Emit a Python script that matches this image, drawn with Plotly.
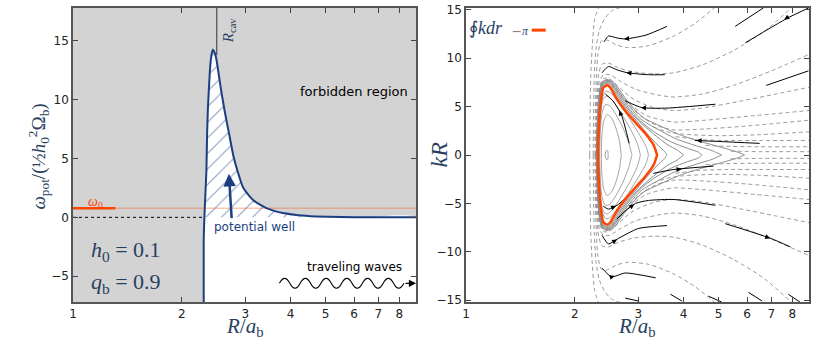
import numpy as np
import plotly.graph_objects as go

# ---- left panel: potential curve ----
pot_r = [2.30, 2.30, 2.31, 2.325, 2.34, 2.35, 2.362, 2.376, 2.39, 2.40, 2.42, 2.44, 2.465, 2.49, 2.53,
         2.57, 2.63, 2.70, 2.78, 2.86, 2.95, 3.05, 3.15, 3.3, 3.43, 3.6, 3.81, 4.2, 4.71, 5.5, 6.5, 8.9]
pot_w = [-9.0, -2.0, 0.0, 2.0, 4.0, 7.0, 9.2, 10.8, 12.2, 13.0, 13.9, 14.25, 14.0, 13.55, 12.2,
         10.8, 9.0, 7.2, 5.2, 3.83, 2.6, 1.95, 1.47, 1.05, 0.78, 0.55, 0.36, 0.18, 0.08, 0.02, 0.0, 0.0]
omega0 = 0.78
omega0_r = [1.0, 1.31]
r_cav = 2.50
r_left, r_right = 1.0, 8.9

# ---- right panel: contours (upper halves, mirrored for kR < 0) ----
red_r = [2.32, 2.33, 2.35, 2.37, 2.40, 2.46, 2.51, 2.62, 2.76, 2.94, 3.14, 3.31, 3.38]
red_kr = [0, 2.5, 4.6, 5.9, 6.95, 7.2, 6.95, 5.76, 4.58, 3.39, 2.2, 1.0, 0]

inner_r = [
    [2.43, 2.44, 2.455, 2.47, 2.475],
    [2.37, 2.38, 2.41, 2.46, 2.53, 2.60, 2.66, 2.69],
    [2.345, 2.355, 2.38, 2.43, 2.50, 2.60, 2.72, 2.82, 2.88],
    [2.335, 2.345, 2.36, 2.40, 2.46, 2.55, 2.68, 2.85, 2.98, 3.04],
    [2.325, 2.335, 2.355, 2.385, 2.44, 2.52, 2.65, 2.82, 3.0, 3.15, 3.20],
]
inner_kr = [
    [0, 0.4, 0.5, 0.4, 0],
    [0, 2.2, 3.6, 4.2, 3.8, 2.8, 1.4, 0],
    [0, 2.5, 4.3, 5.2, 5.1, 4.2, 2.8, 1.3, 0],
    [0, 2.5, 4.4, 5.8, 6.1, 5.6, 4.4, 2.7, 1.2, 0],
    [0, 2.5, 4.5, 5.9, 6.6, 6.4, 5.3, 3.9, 2.3, 0.9, 0],
]

tail_r = [
    [2.315, 2.322, 2.34, 2.36, 2.40, 2.46, 2.52, 2.64, 2.78, 2.97, 3.2, 3.42, 3.55, 3.6],
    [2.31, 2.318, 2.336, 2.356, 2.395, 2.46, 2.53, 2.66, 2.80, 3.0, 3.3, 3.6, 3.85, 4.0],
    [2.305, 2.313, 2.332, 2.352, 2.39, 2.46, 2.54, 2.68, 2.82, 3.02, 3.3, 3.7, 4.1, 4.4, 4.5],
    [2.30, 2.308, 2.328, 2.348, 2.385, 2.46, 2.55, 2.70, 2.85, 3.05, 3.4, 3.8, 4.3, 4.8, 5.1],
    [2.295, 2.303, 2.323, 2.344, 2.38, 2.46, 2.56, 2.72, 2.88, 3.1, 3.45, 3.9, 4.5, 5.2, 5.7, 5.9],
]
tail_kr = [
    [0, 2.5, 4.8, 6.2, 7.15, 7.4, 7.15, 5.95, 4.75, 3.5, 2.05, 0.9, 0.35, 0],
    [0, 2.5, 4.9, 6.3, 7.25, 7.5, 7.25, 6.0, 4.8, 3.55, 2.2, 1.1, 0.5, 0],
    [0, 2.5, 5.0, 6.4, 7.35, 7.6, 7.35, 6.05, 4.85, 3.6, 2.45, 1.35, 0.7, 0.3, 0],
    [0, 2.5, 5.1, 6.5, 7.45, 7.7, 7.45, 6.1, 4.9, 3.7, 2.65, 1.7, 1.0, 0.45, 0],
    [0, 2.5, 5.2, 6.6, 7.55, 7.8, 7.55, 6.2, 5.0, 3.85, 3.0, 2.1, 1.35, 0.7, 0.25, 0],
]

dash_r = [
    [2.20, 2.205, 2.215, 2.235, 2.27, 2.33],
    [2.25, 2.255, 2.265, 2.29, 2.34, 2.42, 2.53, 2.7],
    [2.275, 2.28, 2.295, 2.32, 2.37, 2.45, 2.6, 2.8, 3.2, 3.76, 4.3, 4.9],
    [2.285, 2.29, 2.305, 2.33, 2.38, 2.48, 2.65, 2.9, 3.3, 3.76, 4.5, 5.5, 6.7, 8.0],
    [2.29, 2.296, 2.31, 2.34, 2.40, 2.50, 2.68, 2.95, 3.4, 3.76, 4.5, 5.5, 7.0, 8.9],
    [2.295, 2.30, 2.315, 2.345, 2.40, 2.49, 2.65, 2.9, 3.3, 3.76, 4.6, 5.8, 7.2, 8.9],
    [2.30, 2.305, 2.32, 2.35, 2.41, 2.49, 2.64, 2.86, 3.15, 3.5, 3.76, 4.6, 6.0, 8.9],
    [2.30, 2.31, 2.325, 2.355, 2.41, 2.49, 2.63, 2.84, 3.1, 3.4, 3.76, 4.6, 6.0, 8.9],
    [3.3, 3.6, 4.0, 5.0, 6.5, 8.9],
    [3.8, 4.4, 5.2, 6.5, 8.9],
    [4.6, 5.2, 6.5, 8.9],
    [5.4, 6.5, 8.9],
]
dash_kr = [
    [0, 4, 8, 11, 14, 15.3],
    [0, 4, 8, 11, 12.9, 14.1, 14.9, 15.3],
    [0, 4, 8, 10.5, 11.8, 11.9, 11.4, 11.1, 11.3, 12.3, 13.6, 15.3],
    [0, 3.5, 6.5, 8.4, 9.4, 9.5, 9.0, 8.6, 8.4, 8.5, 9.3, 10.8, 12.8, 15.3],
    [0, 3.5, 6.0, 7.6, 8.3, 8.3, 7.6, 6.8, 6.2, 6.0, 6.3, 7.2, 8.7, 10.4],
    [0, 3.5, 5.8, 7.2, 7.9, 7.9, 7.0, 5.8, 4.9, 4.6, 4.9, 5.6, 6.3, 7.0],
    [0, 3.5, 5.7, 7.0, 7.7, 7.7, 6.6, 5.2, 4.1, 3.6, 3.4, 3.6, 4.0, 4.6],
    [0, 3.5, 5.6, 6.9, 7.6, 7.6, 6.45, 5.05, 3.8, 3.0, 2.6, 2.7, 3.0, 3.6],
    [2.9, 2.4, 2.15, 2.0, 2.1, 2.4],
    [1.9, 1.6, 1.5, 1.5, 1.5],
    [1.0, 0.9, 0.85, 0.85],
    [0.4, 0.35, 0.35],
]

stream_r = [
    [2.41, 2.48, 2.62, 2.76, 3.15, 3.6],
    [2.38, 2.48, 2.62, 2.80, 3.2, 3.55],
    [2.43, 2.55, 2.69, 2.83],
    [2.76, 3.07, 3.6, 4.9],
    [4.3, 5.0, 6.5],
    [5.56, 6.65],
    [5.93, 7.0, 7.8, 8.87],
    [6.78, 8.87],
    [2.40, 2.48, 2.62, 2.76],
    [2.62, 2.76, 2.95, 3.2, 3.76, 4.9],
    [2.38, 2.48, 2.62, 3.0, 3.6],
    [2.38, 2.53, 2.76, 3.35],
    [3.3, 3.76, 4.84],
    [5.22, 6.95, 7.9],
    [2.76, 3.0], [3.68, 3.96], [4.69, 5.1], [6.05, 6.6], [7.8, 8.4],
]
stream_kr = [
    [11.7, 12.3, 12.1, 12.0, 12.4, 13.3],
    [8.5, 9.15, 8.8, 8.5, 8.3, 8.3],
    [6.3, 5.6, 4.2, 1.2],
    [5.6, 4.9, 4.85, 5.25],
    [1.5, 1.4, 1.2],
    [13.3, 15.2],
    [11.6, 13.2, 14.2, 15.2],
    [7.2, 8.7],
    [-5.3, -5.6, -5.2, -4.5],
    [-6.6, -5.8, -5.0, -4.7, -4.6, -5.2],
    [-8.3, -9.2, -8.7, -7.6, -7.3],
    [-11.7, -12.6, -12.2, -12.7],
    [-1.9, -1.5, -1.15],
    [-7.1, -8.6, -9.5],
    [-14.8, -15.1], [-14.4, -15.1], [-14.6, -15.2], [-14.2, -15.1], [-14.4, -15.2],
]

# arrow heads on the streamlines: head point and a point just behind it
arrow_r = [2.74, 2.78, 2.66, 3.05, 4.35, 7.6, 2.60, 2.92, 2.62, 2.58, 3.95, 6.95]
arrow_kr = [12.0, 8.5, 4.6, 4.9, 1.5, 14.0, -5.25, -5.1, -8.75, -12.5, -1.45, -8.6]
arrow_r0 = [2.85, 2.90, 2.70, 3.18, 4.5, 7.9, 2.52, 2.84, 2.55, 2.50, 3.8, 6.7]
arrow_kr0 = [12.05, 8.45, 3.9, 4.85, 1.47, 14.4, -5.5, -5.45, -9.0, -12.65, -1.5, -8.4]

BLUE = "#1b3f80"
ORANGE = "#ff4500"
GRAY = "#8c8c8c"
SERIF = "Liberation Serif"
SANS = "DejaVu Sans"


def px(x):
    return (x - 73) / 738


def py(y):
    return (302 - y) / 299


def joined(rs, ks, mirror=False, closed=False):
    xs, ys = [], []
    for r, k in zip(rs, ks):
        if closed:
            xs += list(r) + list(r[::-1])
            ys += list(k) + [-v for v in k[::-1]]
            xs.append(None); ys.append(None)
        else:
            xs += list(r) + [None]
            ys += list(k) + [None]
            if mirror:
                xs += list(r) + [None]
                ys += [-v for v in k] + [None]
    return xs, ys


fig = go.Figure()
SMOOTH = dict(shape="spline", smoothing=0.5)

# white allowed region under the curve
fig.add_trace(go.Scatter(x=pot_r + [12, 12], y=pot_w + [-10, -10], fill="toself",
                         fillcolor="white", mode="lines", line=dict(width=0, **SMOOTH),
                         xaxis="x", yaxis="y", hoverinfo="skip"))
# hatched potential well
well_r = pot_r[2:]
well_w = pot_w[2:]
fig.add_trace(go.Scatter(x=well_r, y=well_w, fill="toself", mode="lines", line=dict(width=0, **SMOOTH),
                         fillcolor="white",
                         fillpattern=dict(shape="/", fgcolor=BLUE, bgcolor="white", size=11, solidity=0.1),
                         xaxis="x", yaxis="y", hoverinfo="skip"))
fig.add_trace(go.Scatter(x=[r_left, r_right * 1.1], y=[omega0, omega0], mode="lines",
                         line=dict(color="rgba(255,69,0,0.3)", width=1.5), xaxis="x", yaxis="y"))
fig.add_trace(go.Scatter(x=omega0_r, y=[omega0, omega0], mode="lines",
                         line=dict(color=ORANGE, width=2.5), xaxis="x", yaxis="y"))
fig.add_trace(go.Scatter(x=[r_left, pot_r[0]], y=[0, 0], mode="lines",
                         line=dict(color="black", width=1, dash="dot"), xaxis="x", yaxis="y"))
fig.add_trace(go.Scatter(x=[r_cav, r_cav], y=[13.8, 20], mode="lines",
                         line=dict(color="#333", width=1), xaxis="x", yaxis="y"))
fig.add_trace(go.Scatter(x=pot_r, y=pot_w, mode="lines", line=dict(color=BLUE, width=2, **SMOOTH),
                         xaxis="x", yaxis="y"))

# right panel
xs, ys = joined(dash_r, dash_kr, mirror=True)
fig.add_trace(go.Scatter(x=xs, y=ys, mode="lines", connectgaps=False,
                         line=dict(color="#9a9a9a", width=1, dash="4px,3px", shape="spline", smoothing=0.7),
                         xaxis="x2", yaxis="y2"))
xs, ys = joined(tail_r, tail_kr, closed=True)
fig.add_trace(go.Scatter(x=xs, y=ys, mode="lines", connectgaps=False,
                         line=dict(color=GRAY, width=1, shape="spline", smoothing=0.7),
                         xaxis="x2", yaxis="y2"))
xs, ys = joined(inner_r, inner_kr, closed=True)
fig.add_trace(go.Scatter(x=xs, y=ys, mode="lines", connectgaps=False,
                         line=dict(color=GRAY, width=0.8, shape="spline", smoothing=0.7),
                         xaxis="x2", yaxis="y2"))
xs, ys = joined(stream_r, stream_kr)
fig.add_trace(go.Scatter(x=xs, y=ys, mode="lines", connectgaps=False,
                         line=dict(color="black", width=1, shape="spline", smoothing=0.6),
                         xaxis="x2", yaxis="y2"))
xs, ys = joined([red_r], [red_kr], closed=True)
fig.add_trace(go.Scatter(x=xs, y=ys, mode="lines",
                         line=dict(color=ORANGE, width=2.5, shape="spline", smoothing=0.6),
                         xaxis="x2", yaxis="y2"))

ann = []
for hr, hk, tr, tk in zip(arrow_r, arrow_kr, arrow_r0, arrow_kr0):
    ann.append(dict(x=np.log10(hr), y=hk, ax=np.log10(tr), ay=tk, xref="x2", yref="y2",
                    axref="x2", ayref="y2", text="", showarrow=True, arrowhead=2,
                    arrowsize=1, arrowwidth=1, arrowcolor="black"))

# left panel texts
ann += [
    dict(x=np.log10(2.70), y=3.7, ax=np.log10(2.75), ay=-0.2, xref="x", yref="y", axref="x", ayref="y",
         text="", showarrow=True, arrowhead=2, arrowsize=1, arrowwidth=2.5, arrowcolor=BLUE),
    dict(x=px(355), y=py(88), text="forbidden region", font=dict(family=SANS, size=13, color="black")),
    dict(x=px(255), y=py(226), text="potential well", font=dict(family=SANS, size=12, color=BLUE)),
    dict(x=px(355), y=py(266), text="traveling waves", font=dict(family=SANS, size=12, color="black")),
    dict(x=px(126), y=py(250), text="<i>h</i><sub>0</sub> = 0.1", font=dict(family=SERIF, size=22)),
    dict(x=px(126), y=py(283), text="<i>q</i><sub>b</sub> = 0.9", font=dict(family=SERIF, size=22)),
    dict(x=px(96), y=py(201), text="<i>ω</i><sub>0</sub>", font=dict(family=SERIF, size=14, color=ORANGE)),
    dict(x=px(229), y=py(26), text="<i>R</i><sub>cav</sub>", textangle=-90, font=dict(family=SERIF, size=15)),
    dict(x=px(38), y=py(154), textangle=-90,
         text="<i>ω</i><sub>pot</sub>/(½<i>h</i><sub>0</sub><sup>2</sup>Ω<sub>b</sub>)",
         font=dict(family=SERIF, size=19)),
    dict(x=px(245), y=py(327), text="<i>R</i>/<i>a</i><sub>b</sub>", font=dict(family=SERIF, size=21)),
    dict(x=px(639), y=py(327), text="<i>R</i>/<i>a</i><sub>b</sub>", font=dict(family=SERIF, size=21)),
    dict(x=px(440), y=py(152), text="<i>kR</i>", textangle=-90, font=dict(family=SERIF, size=24)),
    dict(x=px(487), y=py(23), text="∮<i>kdr</i>", font=dict(family=SERIF, size=18)),
    dict(x=px(527), y=py(26), text="<i>π</i>", font=dict(family=SERIF, size=12)),
    dict(x=px(417), y=py(283), ax=-12, ay=0, text="", showarrow=True, arrowhead=2,
         arrowsize=1.2, arrowwidth=1.2, arrowcolor="black"),
]
for a in ann:
    a.setdefault("xref", "paper")
    a.setdefault("yref", "paper")
    a.setdefault("showarrow", False)
    if a["text"]:
        a["xanchor"] = "center"
        a["yanchor"] = "middle"

# decorative wave under "traveling waves"
x0, y0, lam, amp, n = 280, 283, 20.8, 5, 6
path = f"M {px(x0)},{py(y0)} Q {px(x0 + lam / 4)},{py(y0 - 2 * amp)} {px(x0 + lam / 2)},{py(y0)}"
for i in range(1, 2 * n):
    path += f" T {px(x0 + lam / 2 * (i + 1))},{py(y0)}"

shapes = [
    dict(type="rect", xref="x domain", yref="y domain", x0=0, x1=1, y0=0, y1=1,
         fillcolor="#d3d3d3", line=dict(width=0), layer="below"),
    dict(type="path", path=path, xref="paper", yref="paper", line=dict(color="black", width=1.1)),
    dict(type="line", xref="paper", yref="paper", x0=px(514), x1=px(522), y0=py(27), y1=py(27),
         line=dict(color="#777", width=1)),
    dict(type="line", xref="paper", yref="paper", x0=px(533), x1=px(547), y0=py(25.5), y1=py(25.5),
         line=dict(color=ORANGE, width=3)),
]

axis_common = dict(showgrid=False, zeroline=False, ticks="inside", ticklen=5, tickwidth=1,
                   tickcolor="#444", showline=True, linecolor="#555", linewidth=1.5, mirror="ticks",
                   tickfont=dict(family=SANS, size=12, color="#222"))
xticks = [1, 2, 3, 4, 5, 6, 7, 8]

fig.update_layout(
    width=814, height=339,
    margin=dict(l=73, r=3, t=3, b=37),
    paper_bgcolor="white", plot_bgcolor="white",
    showlegend=False,
    xaxis=dict(type="log", range=[0, np.log10(r_right)], domain=[0, 0.4661], anchor="y",
               tickvals=xticks, ticktext=[str(v) for v in xticks], **axis_common),
    yaxis=dict(range=[-7.2, 17.8], tickvals=[-5, 0, 5, 10, 15], anchor="x", **axis_common),
    xaxis2=dict(type="log", range=[0, np.log10(r_right)], domain=[0.5339, 1], anchor="y2",
                tickvals=xticks, ticktext=[str(v) for v in xticks], **axis_common),
    yaxis2=dict(range=[-15.2, 15.2], tickvals=[-15, -10, -5, 0, 5, 10, 15], anchor="x2", **axis_common),
    annotations=ann,
    shapes=shapes,
)

# the page has a default body margin; drop it so the figure sits at the window origin
fig.write_html("out.html", config={"displayModeBar": False},
               post_script="document.body.style.margin='0';")
